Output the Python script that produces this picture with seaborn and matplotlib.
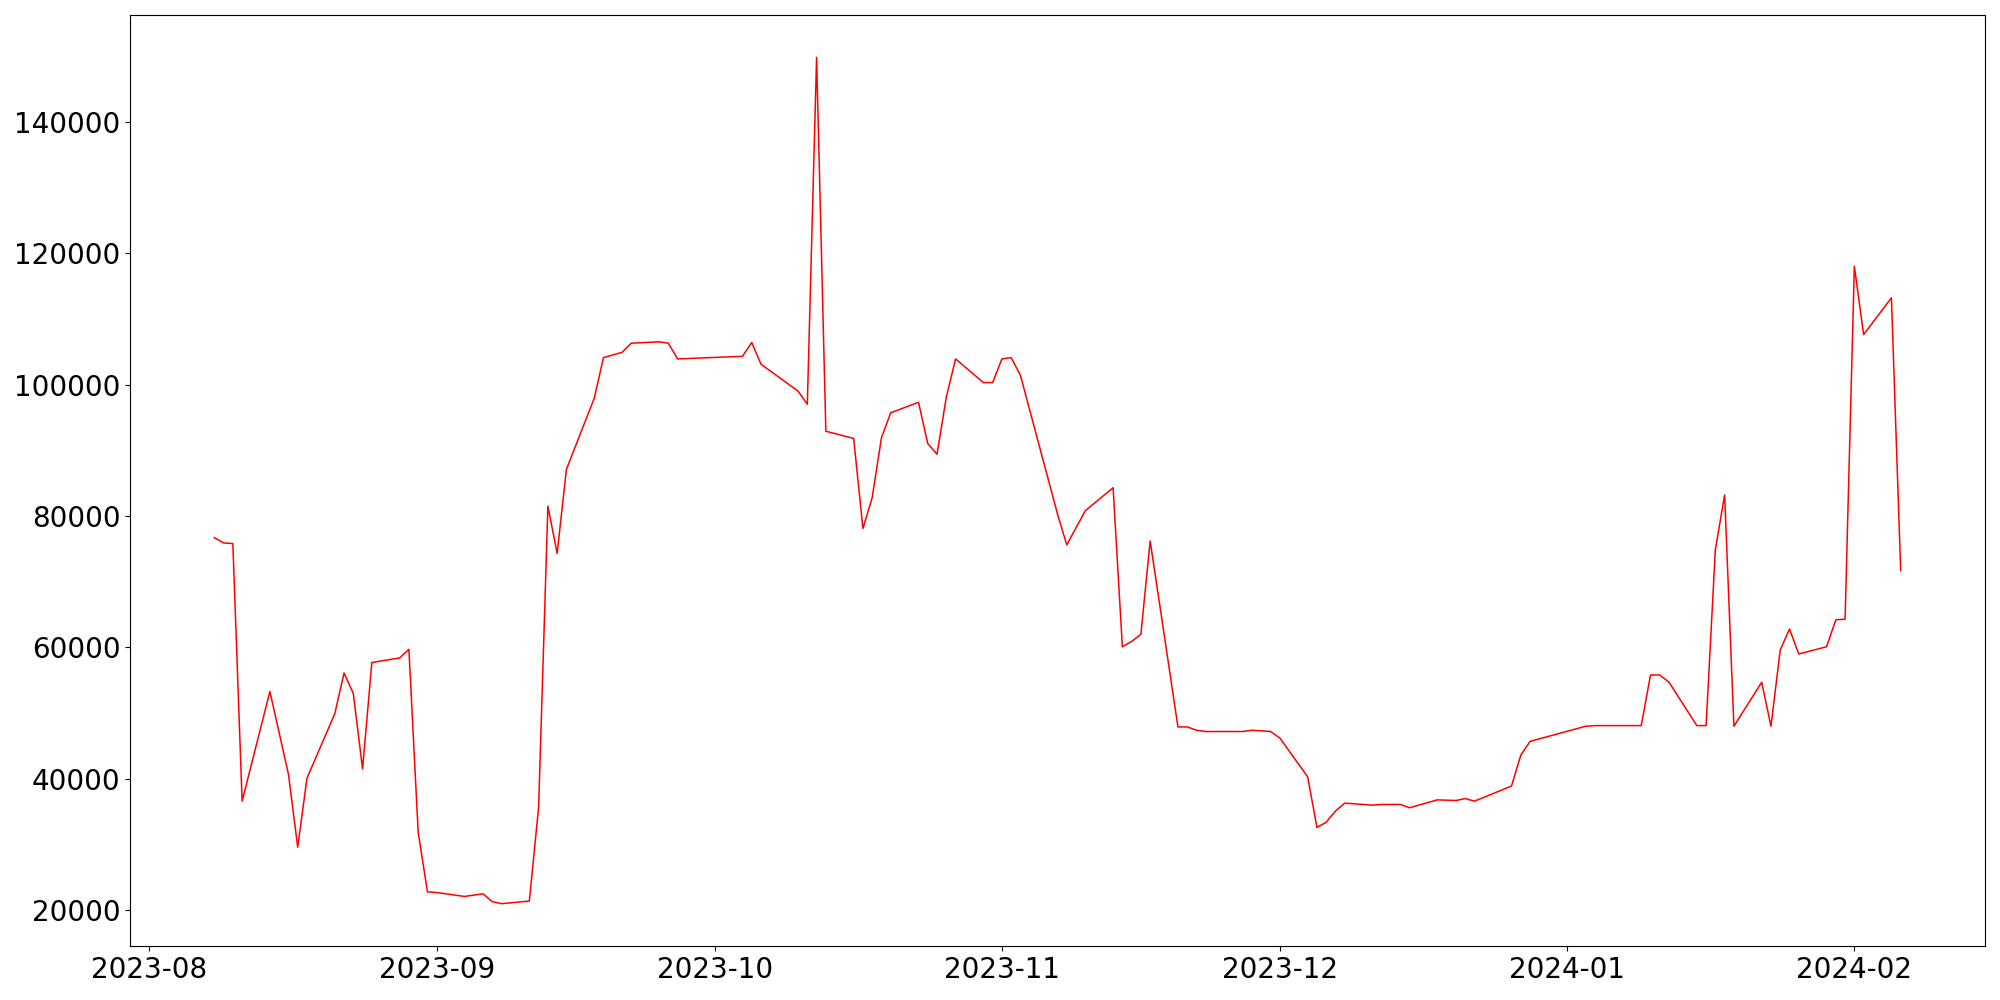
import pandas as pd
import numpy as np
import seaborn as sns
import matplotlib.pyplot as plt

# daily values (business days, some gaps)
dates = [
    '2023-08-08', '2023-08-09', '2023-08-10', '2023-08-11', '2023-08-14', '2023-08-16',
    '2023-08-17', '2023-08-18', '2023-08-21', '2023-08-22', '2023-08-23', '2023-08-24',
    '2023-08-25', '2023-08-28', '2023-08-29', '2023-08-30', '2023-08-31', '2023-09-01',
    '2023-09-04', '2023-09-06', '2023-09-07', '2023-09-08', '2023-09-11', '2023-09-12',
    '2023-09-13', '2023-09-14', '2023-09-15', '2023-09-18', '2023-09-19', '2023-09-21',
    '2023-09-22', '2023-09-25', '2023-09-26', '2023-09-27', '2023-10-04', '2023-10-05',
    '2023-10-06', '2023-10-10', '2023-10-11', '2023-10-12', '2023-10-13', '2023-10-16',
    '2023-10-17', '2023-10-18', '2023-10-19', '2023-10-20', '2023-10-23', '2023-10-24',
    '2023-10-25', '2023-10-26', '2023-10-27', '2023-10-30', '2023-10-31', '2023-11-01',
    '2023-11-02', '2023-11-03', '2023-11-07', '2023-11-08', '2023-11-10', '2023-11-13',
    '2023-11-14', '2023-11-15', '2023-11-16', '2023-11-17', '2023-11-20', '2023-11-21',
    '2023-11-22', '2023-11-23', '2023-11-27', '2023-11-28', '2023-11-30', '2023-12-01',
    '2023-12-04', '2023-12-05', '2023-12-06', '2023-12-07', '2023-12-08', '2023-12-11',
    '2023-12-12', '2023-12-14', '2023-12-15', '2023-12-18', '2023-12-20', '2023-12-21',
    '2023-12-22', '2023-12-26', '2023-12-27', '2023-12-28', '2024-01-03', '2024-01-04',
    '2024-01-09', '2024-01-10', '2024-01-11', '2024-01-12', '2024-01-15', '2024-01-16',
    '2024-01-17', '2024-01-18', '2024-01-19', '2024-01-22', '2024-01-23', '2024-01-24',
    '2024-01-25', '2024-01-26', '2024-01-29', '2024-01-30', '2024-01-31', '2024-02-01',
    '2024-02-02', '2024-02-05', '2024-02-06',
]
values = [
    76700, 75900, 75800, 36600, 53300, 40700,
    29600, 40100, 49900, 56100, 53000, 41500,
    57700, 58400, 59700, 31900, 22800, 22700,
    22100, 22500, 21300, 21000, 21400, 35700,
    81500, 74300, 87100, 97900, 104100, 104900,
    106300, 106500, 106300, 103900, 104300, 106400,
    103100, 99000, 97000, 149800, 92900, 91800,
    78100, 82800, 91900, 95700, 97300, 91000,
    89400, 98100, 103900, 100300, 100300, 103900,
    104100, 101400, 80300, 75600, 80800, 84300,
    60100, 60900, 62000, 76200, 47900, 47900,
    47400, 47200, 47200, 47400, 47200, 46200,
    40300, 32600, 33400, 35100, 36300, 36000,
    36100, 36100, 35600, 36800, 36700, 37000,
    36600, 38900, 43600, 45700, 48000, 48100,
    48100, 55800, 55800, 54700, 48100, 48100,
    74900, 83200, 48000, 54700, 48000, 59600,
    62800, 59000, 60100, 64200, 64300, 118000,
    107600, 113200, 71700,
]

df = pd.DataFrame({'date': pd.to_datetime(dates), 'value': values})

plt.rcParams['font.size'] = 20
fig, ax = plt.subplots(figsize=(20, 10), dpi=100)
sns.lineplot(data=df, x='date', y='value', color='red', linewidth=1.1, ax=ax)
ax.set_xlabel('')
ax.set_ylabel('')
fig.subplots_adjust(left=0.065, right=0.9925, top=0.985, bottom=0.054)
plt.savefig('out.png')
